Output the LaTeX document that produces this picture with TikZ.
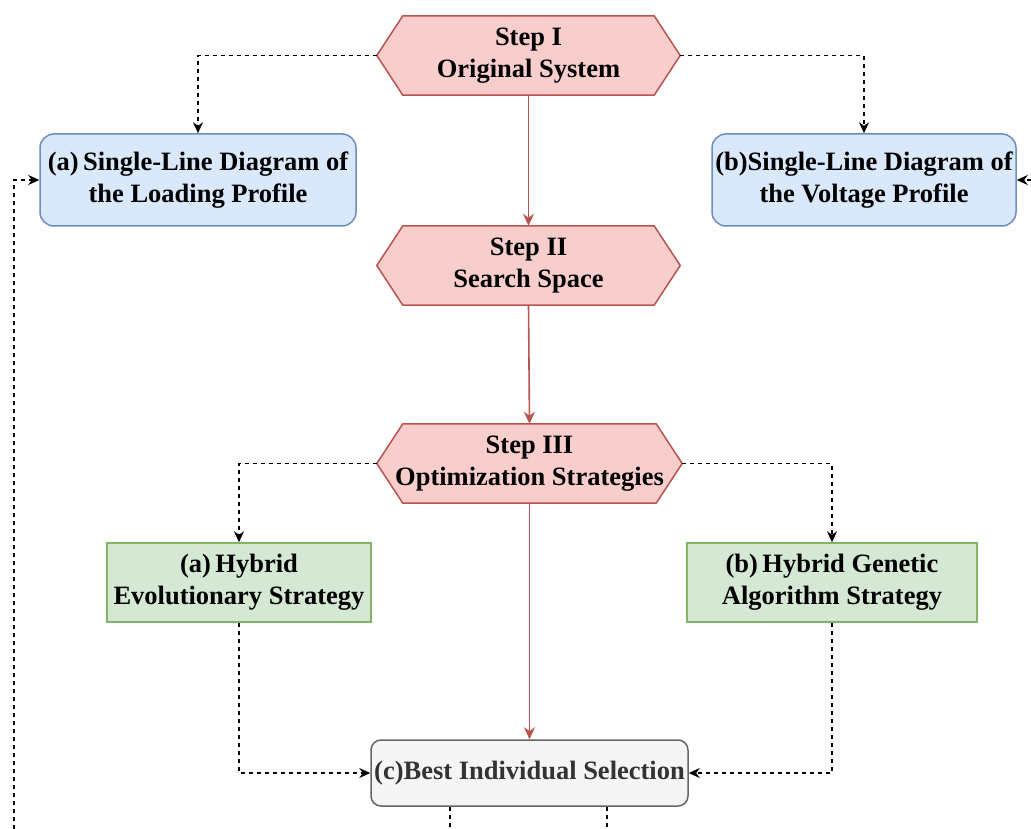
\documentclass[tikz,border=0pt]{standalone}
\usepackage{fontspec}
\setmainfont{Liberation Serif}
\usetikzlibrary{arrows.meta,calc}
\pgfdeclarelayer{bg}
\pgfsetlayers{bg,main}
\definecolor{redf}{HTML}{F8CECC}
\definecolor{redd}{HTML}{B85450}
\definecolor{bluef}{HTML}{DAE8FC}
\definecolor{blued}{HTML}{6C8EBF}
\definecolor{greenf}{HTML}{D5E8D4}
\definecolor{greend}{HTML}{82B366}
\definecolor{grayf}{HTML}{F5F5F5}
\definecolor{grayd}{HTML}{666666}
\definecolor{graytxt}{HTML}{333333}
\begin{document}
\begin{tikzpicture}[x=1pt,y=-1pt,
  every node/.style={font=\bfseries\fontsize{26.5}{32}\selectfont, align=center, inner sep=0pt},
  hexbox/.style={minimum width=303pt, minimum height=79pt},
  hexdraw/.style={draw=redd, fill=redf, line width=1.5pt},
  bluebox/.style={draw=blued, fill=bluef, line width=1.5pt, rounded corners=14pt, minimum width=316pt, minimum height=92pt},
  greenbox/.style={draw=greend, fill=greenf, line width=1.5pt, minimum height=79pt},
  graybox/.style={draw=grayd, fill=grayf, line width=1.5pt, rounded corners=10pt, minimum width=317pt, minimum height=66pt, text=graytxt},
  dline/.style={draw=black, line width=1.4pt, dash pattern=on 4pt off 4pt},
  darr/.style={dline, -{Stealth[length=11pt,width=10pt]}},
  rarr/.style={draw=redd, line width=1.6pt, -{Stealth[length=12pt,width=11pt]}}
]
\useasboundingbox (0,0) rectangle (1031,829);

% hexagon steps
\node[hexbox] (s1) at (528.5,55.5) {Step I\\Original System};
\node[hexbox] (s2) at (528.5,265.5) {Step II\\Search Space};
\node[hexbox,minimum width=305pt] (s3) at (529.5,463.5) {Step III\\Optimization Strategies};
\begin{pgfonlayer}{bg}
\fill[white] (0,0) rectangle (1031,829);
\foreach \n in {s1,s2,s3}{
  \draw[hexdraw] (\n.west) -- ($(\n.north west)+(26,0)$) -- ($(\n.north east)+(-26,0)$) -- (\n.east)
    -- ($(\n.south east)+(-26,0)$) -- ($(\n.south west)+(26,0)$) -- cycle;
}
\end{pgfonlayer}

% blue boxes
\node[bluebox] (b1) at (198,180) {(a)\,Single-Line Diagram of\\the Loading Profile};
\node[bluebox,minimum width=304pt] (b2) at (864,180) {(b)Single-Line Diagram of\\the Voltage Profile};

% green boxes
\node[greenbox,minimum width=264pt] (g1) at (239,582.5) {(a)\,Hybrid\\Evolutionary Strategy};
\node[greenbox,minimum width=290pt] (g2) at (832,582.5) {(b)\,Hybrid Genetic\\Algorithm Strategy};

% gray box
\node[graybox] (c) at (529.5,773) {(c)Best Individual Selection};

% red solid arrows
\draw[rarr] (s1.south) -- (s2.north);
\draw[rarr] (s2.south) -- (s3.north);
\draw[rarr] (s3.south) -- (c.north);

% dashed connectors
\draw[darr] (s1.west) -| (b1.north);
\draw[darr] (s1.east) -| (b2.north);
\draw[darr] (s3.west) -| (g1.north);
\draw[darr] (s3.east) -| (g2.north);
\draw[darr] (g1.south) |- (c.west);
\draw[darr] (g2.south) |- (c.east);

\coordinate (lb) at (14,829);
\coordinate (rb) at (1031,180);
\draw[darr] (lb) |- (b1.west);
\draw[darr] (rb) -- (b2.east);

\coordinate (cb1) at (450,829);
\coordinate (cb2) at (607,829);
\draw[dline] (c.south -| cb1) -- (cb1);
\draw[dline] (c.south -| cb2) -- (cb2);
\end{tikzpicture}
\end{document}
